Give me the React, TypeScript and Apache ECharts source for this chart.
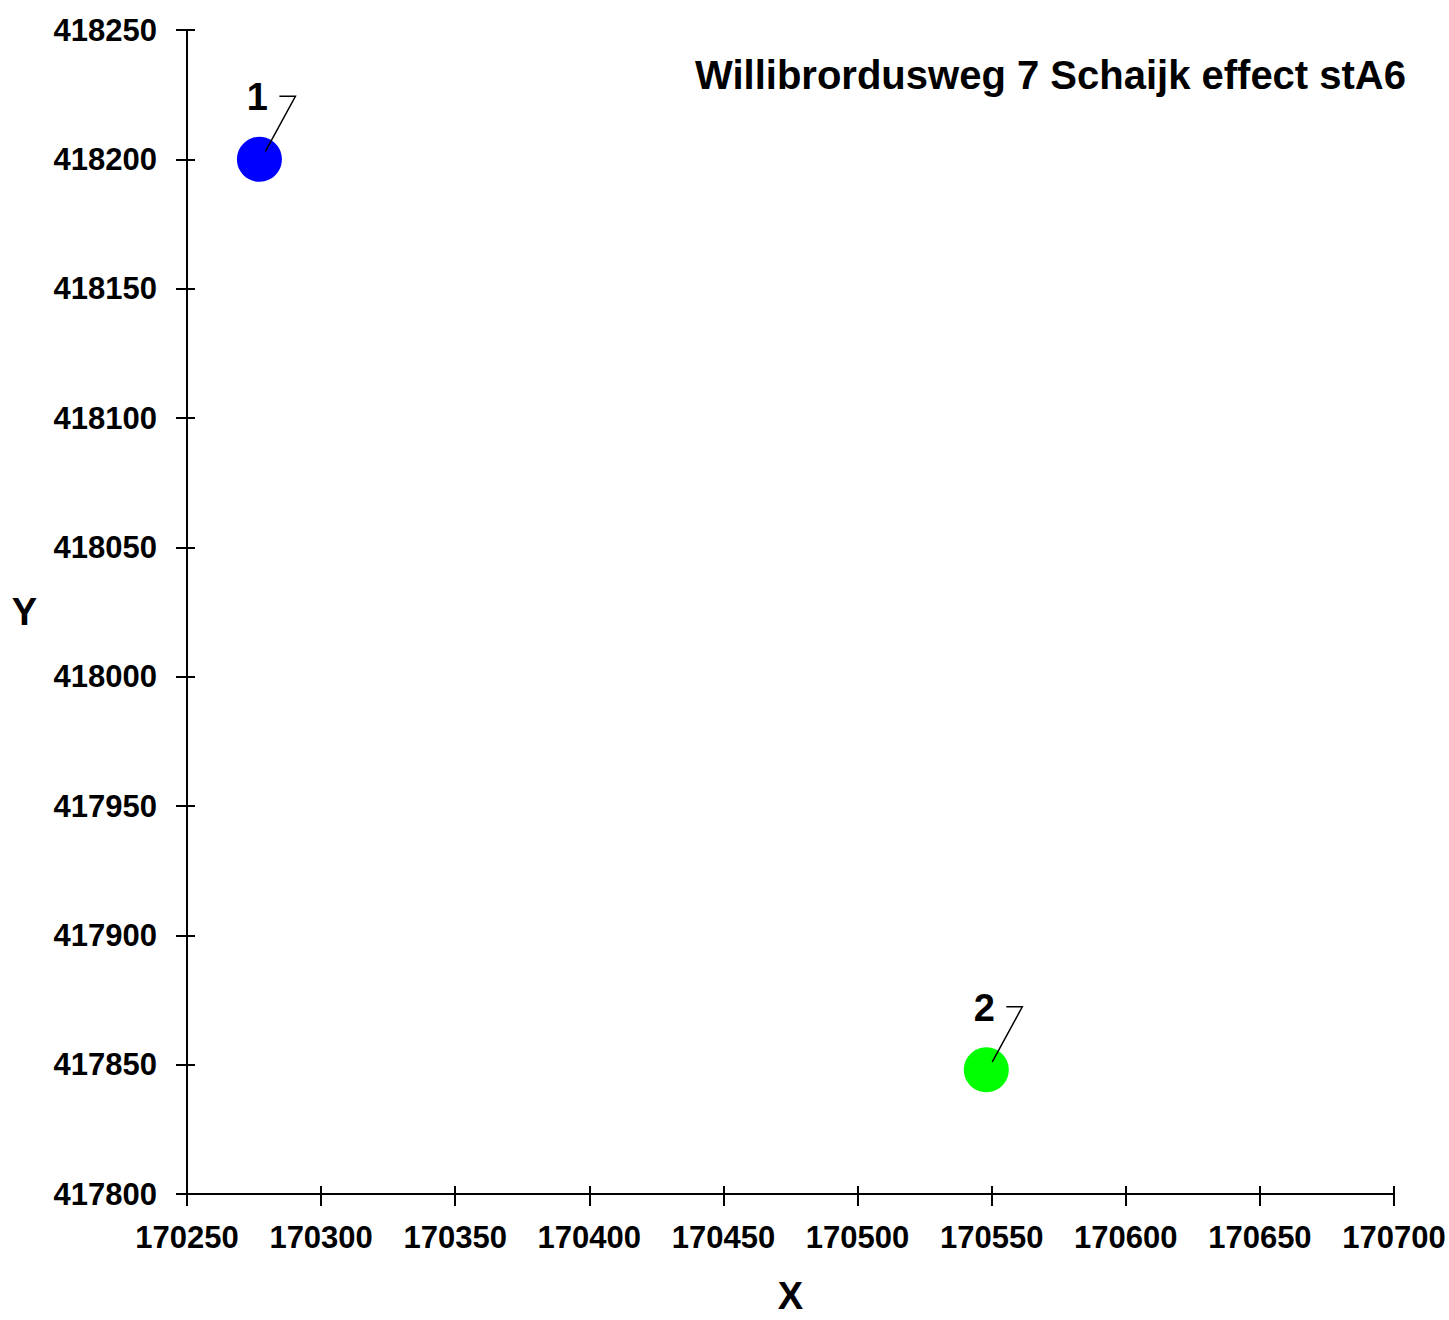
import React, { useEffect, useRef } from "react";
import * as echarts from "echarts";

const pointIds = ["1", "2"];
const pointX = [170277, 170548];
const pointY = [418200, 417848];
const pointColors = ["#0000FF", "#00FF00"];

const xMin = 170250;
const xMax = 170700;
const xStep = 50;
const yMin = 417800;
const yMax = 418250;
const yStep = 50;

const titleText = "Willibrordusweg 7 Schaijk effect stA6";
const xName = "X";
const yName = "Y";

const FONT = "'Liberation Sans', Arial, Helvetica, sans-serif";

export default function App() {
  const ref = useRef<HTMLDivElement>(null);

  useEffect(() => {
    document.body.style.margin = "0";
    if (!ref.current) return;
    const chart = echarts.init(ref.current, undefined, { renderer: "svg" });

    const scatterData = pointX.map((x, i) => ({
      value: [x, pointY[i]],
      itemStyle: { color: pointColors[i], opacity: 1 },
    }));
    const labelData = pointX.map((x, i) => [x, pointY[i], i]);

    const axisLabelStyle = {
      fontSize: 31,
      fontWeight: "bold" as const,
      color: "#000",
      fontFamily: FONT,
      formatter: (v: number) => String(v),
    };
    const nameStyle = {
      fontSize: 38,
      fontWeight: "bold" as const,
      color: "#000",
      fontFamily: FONT,
    };

    chart.setOption({
      animation: false,
      backgroundColor: "#fff",
      title: {
        text: titleText,
        right: 38,
        top: 50,
        textStyle: {
          fontSize: 40,
          fontWeight: "bold",
          color: "#000",
          fontFamily: FONT,
        },
      },
      grid: { left: 187, right: 55, top: 30, bottom: 119 },
      xAxis: [
        {
          type: "value",
          min: xMin,
          max: xMax,
          interval: xStep,
          position: "bottom",
          name: xName,
          nameLocation: "middle",
          nameGap: 83,
          nameTextStyle: nameStyle,
          axisLine: { show: true, onZero: false, lineStyle: { color: "#000", width: 2 } },
          axisTick: { show: true, length: 12, lineStyle: { color: "#000", width: 2 } },
          axisLabel: { ...axisLabelStyle, margin: 28 },
          splitLine: { show: false },
        },
        {
          type: "value",
          min: xMin,
          max: xMax,
          interval: xStep,
          position: "bottom",
          axisLine: { show: false, onZero: false },
          axisTick: { show: true, inside: true, length: 8, lineStyle: { color: "#000", width: 2 } },
          axisLabel: { show: false },
          splitLine: { show: false },
        },
      ],
      yAxis: [
        {
          type: "value",
          min: yMin,
          max: yMax,
          interval: yStep,
          position: "left",
          name: yName,
          nameLocation: "middle",
          nameRotate: 0,
          nameGap: 150,
          nameTextStyle: nameStyle,
          axisLine: { show: true, onZero: false, lineStyle: { color: "#000", width: 2 } },
          axisTick: { show: true, length: 11, lineStyle: { color: "#000", width: 2 } },
          axisLabel: { ...axisLabelStyle, margin: 30 },
          splitLine: { show: false },
        },
        {
          type: "value",
          min: yMin,
          max: yMax,
          interval: yStep,
          position: "left",
          axisLine: { show: false, onZero: false },
          axisTick: { show: true, inside: true, length: 8, lineStyle: { color: "#000", width: 2 } },
          axisLabel: { show: false },
          splitLine: { show: false },
        },
      ],
      series: [
        {
          type: "scatter",
          xAxisIndex: 0,
          yAxisIndex: 0,
          symbol: "circle",
          symbolSize: 45,
          data: scatterData,
          z: 2,
        },
        {
          type: "custom",
          xAxisIndex: 0,
          yAxisIndex: 0,
          z: 3,
          data: labelData,
          renderItem: (params: any, api: any) => {
            const p = api.coord([api.value(0), api.value(1)]);
            const idx = api.value(2);
            return {
              type: "group",
              children: [
                {
                  type: "polyline",
                  shape: {
                    points: [
                      [p[0] + 6, p[1] - 8],
                      [p[0] + 36, p[1] - 63],
                      [p[0] + 20, p[1] - 63],
                    ],
                  },
                  style: { stroke: "#000", lineWidth: 1.5, fill: null },
                },
                {
                  type: "text",
                  x: p[0] - 2,
                  y: p[1] - 62,
                  style: {
                    text: pointIds[idx],
                    fontSize: 38,
                    fontWeight: "bold",
                    fontFamily: FONT,
                    fill: "#000",
                    align: "center",
                    verticalAlign: "middle",
                  },
                },
              ],
            };
          },
        },
      ],
    });

    return () => {
      chart.dispose();
    };
  }, []);

  return (
    <>
      <style>{"html,body{margin:0;padding:0;overflow:hidden;}"}</style>
      <div
        ref={ref}
        style={{ position: "absolute", left: 0, top: 0, width: 1449, height: 1320 }}
      />
    </>
  );
}
